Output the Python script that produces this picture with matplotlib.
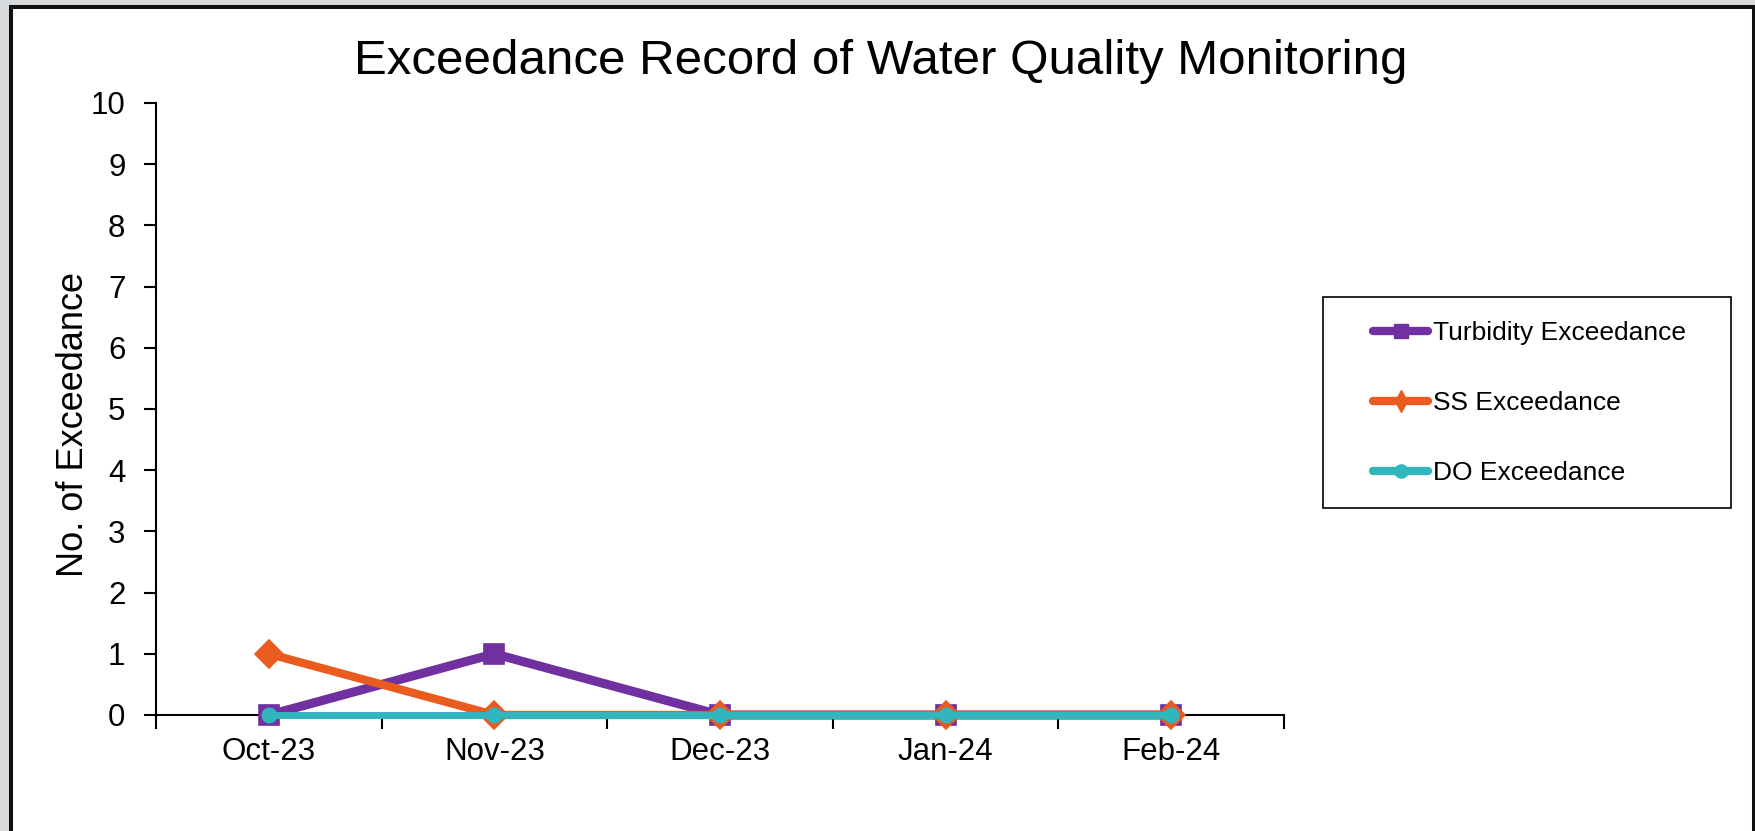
import matplotlib
matplotlib.use("Agg")
import matplotlib.pyplot as plt
from matplotlib.patches import Rectangle
from matplotlib.lines import Line2D
from matplotlib.ticker import FixedLocator

plt.rcParams['font.family'] = ['Liberation Sans', 'DejaVu Sans']

# === Data ===
months = ["Oct-23", "Nov-23", "Dec-23", "Jan-24", "Feb-24"]
turbidity = [0, 1, 0, 0, 0]
ss = [1, 0, 0, 0, 0]
do = [0, 0, 0, 0, 0]

series_names = ["Turbidity Exceedance", "SS Exceedance", "DO Exceedance"]
purple = "#7030A0"
orange = "#E95B1E"
teal = "#31B6BD"

W, H = 1756, 831
fig = plt.figure(figsize=(W / 100, H / 100), dpi=100)
fig.patch.set_facecolor("#d8dbde")

# --- white panel with dark frame ---
panel = Rectangle((11 / W, -0.05), (1754 - 11) / W, 1.05 - 7 / H,
                  transform=fig.transFigure, facecolor="white",
                  edgecolor="#111111", linewidth=2.9, zorder=-10)
fig.patches.append(panel)

ax = fig.add_axes([156 / W, 116 / H, (1284 - 156) / W, (715 - 103) / H])
ax.set_facecolor("none")
ax.set_zorder(1)

x = list(range(len(months)))
ax.plot(x, turbidity, color=purple, lw=6.5, marker="s", ms=15,
        mec=purple, mew=1.2, zorder=3, solid_joinstyle="miter", clip_on=False)
ax.plot(x, ss, color=orange, lw=6.0, marker="D", ms=14.5,
        mec=orange, mew=1.2, zorder=4, solid_joinstyle="miter", clip_on=False)
ax.plot(x, do, color=teal, lw=5.0, marker="o", ms=10.5,
        mec=teal, mew=1, zorder=5, clip_on=False)

ax.set_xlim(-0.5, len(months) - 0.5)
ax.set_ylim(0, 10)
ax.set_yticks(range(0, 11))

# category axis: tick marks between categories, labels centred
ax.xaxis.set_major_locator(FixedLocator([i - 0.5 for i in range(len(months) + 1)]))
ax.xaxis.set_minor_locator(FixedLocator(x))
ax.set_xticklabels([], minor=False)
ax.set_xticklabels(months, minor=True)
ax.tick_params(axis="x", which="minor", length=0, pad=16, labelsize=22.5)
ax.tick_params(axis="x", which="major", length=10, width=1.5, direction="out")
ax.tick_params(axis="y", length=9, width=1.5, direction="out", pad=13, labelsize=22.5)

for side in ["top", "right"]:
    ax.spines[side].set_visible(False)
for side in ["left", "bottom"]:
    ax.spines[side].set_linewidth(1.5)
ax.spines["bottom"].set_zorder(2)

fig.text(74 / W, 1 - 424.5 / H, "No. of Exceedance", rotation=90,
         ha="center", va="center", fontsize=26)

fig.text(881 / W, 1 - 74 / H, "Exceedance Record of Water Quality Monitoring",
         ha="center", va="baseline", fontsize=35.5)

# --- legend ---
handles = [
    Line2D([], [], color=purple, lw=6, marker="s", ms=10, mec=purple,
           solid_capstyle="round"),
    Line2D([], [], color=orange, lw=6, marker="d", ms=11, mec=orange,
           solid_capstyle="round"),
    Line2D([], [], color=teal, lw=6, marker="o", ms=9.5, mec=teal,
           solid_capstyle="round"),
]
leg_box = Rectangle((1323 / W, 1 - 508 / H), (1731 - 1323) / W, (508 - 297) / H,
                    transform=fig.transFigure, facecolor="white",
                    edgecolor="black", linewidth=1.2, zorder=-5)
fig.patches.append(leg_box)
fig.legend(handles, series_names, loc="upper left",
           bbox_to_anchor=(1373 / W, 1 - 321 / H), frameon=False,
           fontsize=19, borderpad=0, borderaxespad=0, handlelength=2.1,
           handletextpad=0.18, labelspacing=1.74)

fig.savefig("out.png", dpi=100)
